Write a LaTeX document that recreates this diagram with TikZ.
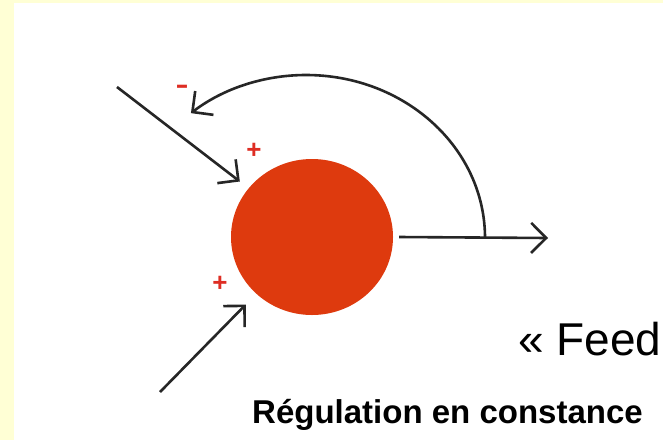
\documentclass[tikz,border=0pt]{standalone}
\usepackage{fontspec}
\setmainfont{Liberation Sans}
\usetikzlibrary{arrows.meta,shapes.geometric}

\definecolor{paleyellow}{RGB}{255,255,213}
\definecolor{bloodred}{RGB}{222,58,14}
\definecolor{signred}{RGB}{222,45,35}
\definecolor{inkgray}{RGB}{38,38,38}

\begin{document}
\begin{tikzpicture}[x=1pt, y=-1pt,
    flow/.style={draw=inkgray, line width=2.6pt, -{Straight Barb[length=15pt, width=30pt, line width=2.6pt]}},
    sign/.style={text=signred, font=\fontsize{26}{26}\selectfont\bfseries, inner sep=0pt}]

  % -- Frame --
  \useasboundingbox (0,0) rectangle (663,440);
  \fill[paleyellow] (0,0) rectangle (663,440);
  \fill[white] (14,3) rectangle (663,440);

  % -- Regulated variable --
  \node[ellipse, fill=bloodred, minimum width=162pt, minimum height=156pt, inner sep=0pt] (reg) at (312,237) {};

  % -- Inputs --
  \coordinate (inA) at (117,87);
  \coordinate (inB) at (160,392);
  \draw[flow, shorten >=11pt] (inA) -- (reg);
  \draw[flow, shorten >=15pt] (inB) -- (reg);
  \node[sign] (plusA) at (254,151) {+};
  \node[sign] (plusB) at (220,284) {+};

  % -- Output and feedback loop --
  \coordinate (outEnd) at (548,238);
  \coordinate (fbStart) at (485,238);
  \draw[flow] ([xshift=6pt]reg.east) -- (outEnd);
  \draw[flow] (fbStart) arc[start angle=0, end angle=130, x radius=179pt, y radius=163pt];
  \node[sign, xscale=1.5] (minus) at (182,89) {-};

  % -- Labels --
  \node[anchor=base west, inner sep=0pt, font=\fontsize{46}{46}\selectfont] (feed) at (518,355) {« Feed};
  \node[anchor=base west, inner sep=0pt, font=\fontsize{33}{33}\selectfont\bfseries] (title) at (252,423) {Régulation en constance};

\end{tikzpicture}
\end{document}
